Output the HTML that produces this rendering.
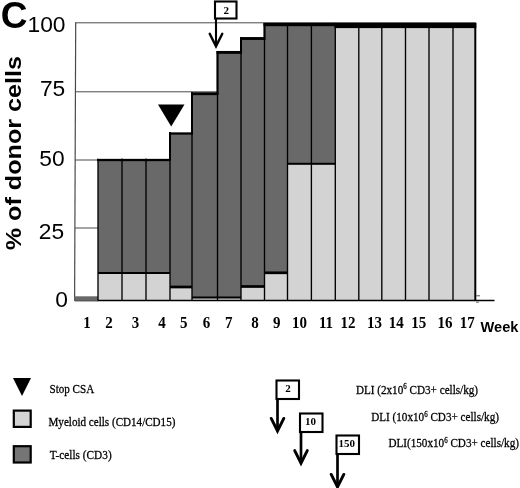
<!DOCTYPE html>
<html><head><meta charset="utf-8"><title>Chart</title>
<style>html,body{margin:0;padding:0;background:#fff}svg{display:block}</style></head>
<body>
<svg width="520" height="488" viewBox="0 0 520 488">
<rect width="520" height="488" fill="#fff"/>
<line x1="75" y1="22.8" x2="476" y2="22.8" stroke="#4a4a4a" stroke-width="1"/>
<line x1="75" y1="91.8" x2="476" y2="91.8" stroke="#4a4a4a" stroke-width="1"/>
<line x1="75" y1="160" x2="476" y2="160" stroke="#4a4a4a" stroke-width="1"/>
<line x1="75" y1="228" x2="476" y2="228" stroke="#4a4a4a" stroke-width="1"/>
<line x1="75.7" y1="22.5" x2="74.6" y2="301.0" stroke="#4a4a4a" stroke-width="1.2"/>
<rect x="74.4" y="296.3" width="23.599999999999994" height="4.800000000000011" fill="#696969"/>
<rect x="98" y="160" width="24" height="113" fill="#696969"/>
<rect x="98" y="273" width="24" height="27.5" fill="#d3d3d3"/>
<rect x="122" y="160" width="24" height="113" fill="#696969"/>
<rect x="122" y="273" width="24" height="27.5" fill="#d3d3d3"/>
<rect x="146" y="160" width="24" height="113" fill="#696969"/>
<rect x="146" y="273" width="24" height="27.5" fill="#d3d3d3"/>
<rect x="170" y="133.5" width="22" height="153.5" fill="#696969"/>
<rect x="170" y="287" width="22" height="13.5" fill="#d3d3d3"/>
<rect x="192" y="93.7" width="25.5" height="203.8" fill="#696969"/>
<rect x="192" y="297.5" width="25.5" height="3.0" fill="#d3d3d3"/>
<rect x="217.5" y="52.4" width="23.5" height="245.1" fill="#696969"/>
<rect x="217.5" y="297.5" width="23.5" height="3.0" fill="#d3d3d3"/>
<rect x="241" y="38.5" width="23.5" height="248.0" fill="#696969"/>
<rect x="241" y="286.5" width="23.5" height="14.0" fill="#d3d3d3"/>
<rect x="264.5" y="24.5" width="23.0" height="248.3" fill="#696969"/>
<rect x="264.5" y="272.8" width="23.0" height="27.69999999999999" fill="#d3d3d3"/>
<rect x="287.5" y="24.5" width="23.899999999999977" height="139.3" fill="#696969"/>
<rect x="287.5" y="163.8" width="23.899999999999977" height="136.7" fill="#d3d3d3"/>
<rect x="311.4" y="24.5" width="23.900000000000034" height="139.3" fill="#696969"/>
<rect x="311.4" y="163.8" width="23.900000000000034" height="136.7" fill="#d3d3d3"/>
<rect x="335.3" y="24.5" width="23.5" height="276.0" fill="#d3d3d3"/>
<rect x="358.8" y="24.5" width="23.0" height="276.0" fill="#d3d3d3"/>
<rect x="381.8" y="24.5" width="23.69999999999999" height="276.0" fill="#d3d3d3"/>
<rect x="405.5" y="24.5" width="23.5" height="276.0" fill="#d3d3d3"/>
<rect x="429" y="24.5" width="24" height="276.0" fill="#d3d3d3"/>
<rect x="453" y="24.5" width="22.5" height="276.0" fill="#d3d3d3"/>
<line x1="98" y1="158.8" x2="98" y2="300.5" stroke="#000" stroke-width="1.35"/>
<line x1="97" y1="160" x2="122.8" y2="160" stroke="#000" stroke-width="2.3"/>
<line x1="98" y1="273" x2="122" y2="273" stroke="#000" stroke-width="2"/>
<line x1="122" y1="158.8" x2="122" y2="300.5" stroke="#000" stroke-width="1.35"/>
<line x1="121" y1="160" x2="146.8" y2="160" stroke="#000" stroke-width="2.3"/>
<line x1="122" y1="273" x2="146" y2="273" stroke="#000" stroke-width="2"/>
<line x1="146" y1="158.8" x2="146" y2="300.5" stroke="#000" stroke-width="1.35"/>
<line x1="145" y1="160" x2="170.8" y2="160" stroke="#000" stroke-width="2.3"/>
<line x1="146" y1="273" x2="170" y2="273" stroke="#000" stroke-width="2"/>
<line x1="170" y1="132.3" x2="170" y2="300.5" stroke="#000" stroke-width="1.35"/>
<line x1="170" y1="132.1" x2="170" y2="161.1" stroke="#000" stroke-width="2"/>
<line x1="169" y1="133.5" x2="192.8" y2="133.5" stroke="#000" stroke-width="2.3"/>
<line x1="170" y1="287" x2="192" y2="287" stroke="#000" stroke-width="2.7"/>
<line x1="192" y1="92.5" x2="192" y2="300.5" stroke="#000" stroke-width="1.35"/>
<line x1="192" y1="92.3" x2="192" y2="134.6" stroke="#000" stroke-width="2"/>
<line x1="191" y1="93.7" x2="218.3" y2="93.7" stroke="#000" stroke-width="2.9"/>
<line x1="192" y1="297.5" x2="217.5" y2="297.5" stroke="#000" stroke-width="2"/>
<line x1="217.5" y1="51.199999999999996" x2="217.5" y2="300.5" stroke="#000" stroke-width="1.35"/>
<line x1="217.5" y1="51.0" x2="217.5" y2="94.8" stroke="#000" stroke-width="2"/>
<line x1="216.5" y1="52.4" x2="241.8" y2="52.4" stroke="#000" stroke-width="2.9"/>
<line x1="217.5" y1="297.5" x2="241" y2="297.5" stroke="#000" stroke-width="2"/>
<line x1="241" y1="37.3" x2="241" y2="300.5" stroke="#000" stroke-width="1.35"/>
<line x1="241" y1="37.1" x2="241" y2="53.5" stroke="#000" stroke-width="2"/>
<line x1="240" y1="38.5" x2="265.3" y2="38.5" stroke="#000" stroke-width="2.9"/>
<line x1="241" y1="286.5" x2="264.5" y2="286.5" stroke="#000" stroke-width="2.7"/>
<line x1="264.5" y1="23.3" x2="264.5" y2="300.5" stroke="#000" stroke-width="1.35"/>
<line x1="264.5" y1="23.1" x2="264.5" y2="39.6" stroke="#000" stroke-width="2"/>
<line x1="264.5" y1="272.8" x2="287.5" y2="272.8" stroke="#000" stroke-width="2.7"/>
<line x1="287.5" y1="23.3" x2="287.5" y2="300.5" stroke="#000" stroke-width="1.35"/>
<line x1="287.5" y1="163.8" x2="311.4" y2="163.8" stroke="#000" stroke-width="2"/>
<line x1="311.4" y1="23.3" x2="311.4" y2="300.5" stroke="#000" stroke-width="1.35"/>
<line x1="311.4" y1="163.8" x2="335.3" y2="163.8" stroke="#000" stroke-width="2"/>
<line x1="335.3" y1="23.3" x2="335.3" y2="300.5" stroke="#000" stroke-width="1.35"/>
<line x1="358.8" y1="23.3" x2="358.8" y2="300.5" stroke="#000" stroke-width="1.35"/>
<line x1="381.8" y1="23.3" x2="381.8" y2="300.5" stroke="#000" stroke-width="1.35"/>
<line x1="405.5" y1="23.3" x2="405.5" y2="300.5" stroke="#000" stroke-width="1.35"/>
<line x1="429" y1="23.3" x2="429" y2="300.5" stroke="#000" stroke-width="1.35"/>
<line x1="453" y1="23.3" x2="453" y2="300.5" stroke="#000" stroke-width="1.35"/>
<line x1="475.3" y1="23" x2="475.3" y2="300.5" stroke="#000" stroke-width="2"/>
<rect x="334.5" y="22.8" width="141.8" height="5.3" fill="#000"/>
<rect x="263.5" y="22.8" width="72" height="3.4" fill="#000"/>
<line x1="97" y1="300.5" x2="494.5" y2="300.5" stroke="#000" stroke-width="1.6"/>
<line x1="75" y1="300.8" x2="98" y2="300.8" stroke="#555" stroke-width="1.2"/>
<line x1="476" y1="295.8" x2="480" y2="295.8" stroke="#555" stroke-width="1"/>
<line x1="476" y1="302.2" x2="479" y2="302.2" stroke="#666" stroke-width="1"/>
<polygon points="158,104.5 184.5,104.5 171.2,126.5" fill="#000"/>
<line x1="216" y1="18.5" x2="216" y2="45.3" stroke="#000" stroke-width="2.1"/>
<polyline points="209.7,33.699999999999996 216,46.3 222.3,33.699999999999996" fill="none" stroke="#000" stroke-width="2.4" stroke-linecap="round" stroke-linejoin="miter"/>
<rect x="215" y="1.5" width="21.5" height="17" fill="#fff" stroke="#000" stroke-width="2.1"/>
<text x="226.25" y="13.6" text-anchor="middle" font-family="'Liberation Serif',serif" font-weight="bold" font-size="11">2</text>
<line x1="277.5" y1="399.0" x2="277.5" y2="430" stroke="#000" stroke-width="2.7"/>
<polyline points="271.2,418.4 277.5,431 283.8,418.4" fill="none" stroke="#000" stroke-width="2.9" stroke-linecap="round" stroke-linejoin="miter"/>
<rect x="276.5" y="380.5" width="22.5" height="18.5" fill="#fff" stroke="#000" stroke-width="2.1"/>
<text x="287.95" y="392.15" text-anchor="middle" font-family="'Liberation Serif',serif" font-weight="bold" font-size="11">2</text>
<line x1="301" y1="432.0" x2="301" y2="462.2" stroke="#000" stroke-width="2.7"/>
<polyline points="294.7,450.59999999999997 301,463.2 307.3,450.59999999999997" fill="none" stroke="#000" stroke-width="2.9" stroke-linecap="round" stroke-linejoin="miter"/>
<rect x="300" y="413.5" width="22.5" height="18.5" fill="#fff" stroke="#000" stroke-width="2.1"/>
<text x="310.45" y="425.15" text-anchor="middle" font-family="'Liberation Serif',serif" font-weight="bold" font-size="11">10</text>
<line x1="337.5" y1="454.0" x2="337.5" y2="486" stroke="#000" stroke-width="2.7"/>
<polyline points="331.2,474.4 337.5,487 343.8,474.4" fill="none" stroke="#000" stroke-width="2.9" stroke-linecap="round" stroke-linejoin="miter"/>
<rect x="336.5" y="435.5" width="22.5" height="18.5" fill="#fff" stroke="#000" stroke-width="2.1"/>
<text x="346.75" y="447.15" text-anchor="middle" font-family="'Liberation Serif',serif" font-weight="bold" font-size="11">150</text>
<text x="65.5" y="32.2" text-anchor="end" font-family="'Liberation Sans',sans-serif" font-size="22.8">100</text>
<text x="65.3" y="96.3" text-anchor="end" font-family="'Liberation Sans',sans-serif" font-size="22.8">75</text>
<text x="64.6" y="166.2" text-anchor="end" font-family="'Liberation Sans',sans-serif" font-size="22.8">50</text>
<text x="64.2" y="238.8" text-anchor="end" font-family="'Liberation Sans',sans-serif" font-size="22.8">25</text>
<text x="68" y="307.4" text-anchor="end" font-family="'Liberation Sans',sans-serif" font-size="22.8">0</text>
<text x="0.7" y="27.8" font-family="'Liberation Sans',sans-serif" font-weight="bold" font-size="37">C</text>
<text transform="translate(20.6,250.3) rotate(-90) scale(1.16,1)" font-family="'Liberation Sans',sans-serif" font-weight="bold" font-size="21.7">% of donor cells</text>
<text transform="translate(87,327.9) scale(1,1.06)" text-anchor="middle" font-family="'Liberation Serif',serif" font-weight="bold" font-size="15">1</text>
<text transform="translate(109,327.9) scale(1,1.06)" text-anchor="middle" font-family="'Liberation Serif',serif" font-weight="bold" font-size="15">2</text>
<text transform="translate(135.6,327.9) scale(1,1.06)" text-anchor="middle" font-family="'Liberation Serif',serif" font-weight="bold" font-size="15">3</text>
<text transform="translate(161.9,327.9) scale(1,1.06)" text-anchor="middle" font-family="'Liberation Serif',serif" font-weight="bold" font-size="15">4</text>
<text transform="translate(183.8,327.9) scale(1,1.06)" text-anchor="middle" font-family="'Liberation Serif',serif" font-weight="bold" font-size="15">5</text>
<text transform="translate(206.6,327.9) scale(1,1.06)" text-anchor="middle" font-family="'Liberation Serif',serif" font-weight="bold" font-size="15">6</text>
<text transform="translate(228.8,327.9) scale(1,1.06)" text-anchor="middle" font-family="'Liberation Serif',serif" font-weight="bold" font-size="15">7</text>
<text transform="translate(255,327.9) scale(1,1.06)" text-anchor="middle" font-family="'Liberation Serif',serif" font-weight="bold" font-size="15">8</text>
<text transform="translate(276.8,327.9) scale(1,1.06)" text-anchor="middle" font-family="'Liberation Serif',serif" font-weight="bold" font-size="15">9</text>
<text transform="translate(299.6,327.9) scale(1,1.06)" text-anchor="middle" font-family="'Liberation Serif',serif" font-weight="bold" font-size="15">10</text>
<text transform="translate(326,327.9) scale(1,1.06)" text-anchor="middle" font-family="'Liberation Serif',serif" font-weight="bold" font-size="15">11</text>
<text transform="translate(347.9,327.9) scale(1,1.06)" text-anchor="middle" font-family="'Liberation Serif',serif" font-weight="bold" font-size="15">12</text>
<text transform="translate(374.6,327.9) scale(1,1.06)" text-anchor="middle" font-family="'Liberation Serif',serif" font-weight="bold" font-size="15">13</text>
<text transform="translate(396.3,327.9) scale(1,1.06)" text-anchor="middle" font-family="'Liberation Serif',serif" font-weight="bold" font-size="15">14</text>
<text transform="translate(418.7,327.9) scale(1,1.06)" text-anchor="middle" font-family="'Liberation Serif',serif" font-weight="bold" font-size="15">15</text>
<text transform="translate(445,327.9) scale(1,1.06)" text-anchor="middle" font-family="'Liberation Serif',serif" font-weight="bold" font-size="15">16</text>
<text transform="translate(467.2,327.9) scale(1,1.06)" text-anchor="middle" font-family="'Liberation Serif',serif" font-weight="bold" font-size="15">17</text>
<text x="480.6" y="332.2" font-family="'Liberation Sans',sans-serif" font-weight="bold" font-size="14.6">Week</text>
<polygon points="13,378 31,378 22,396" fill="#000"/>
<rect x="13.8" y="410.6" width="16.9" height="16.3" fill="#d3d3d3" stroke="#000" stroke-width="2.2"/>
<rect x="13.8" y="446.2" width="16.9" height="16.3" fill="#757575" stroke="#000" stroke-width="2.2"/>
<text transform="translate(49.5,393) scale(1,1.1)" font-family="'Liberation Serif',serif" font-size="11.1" stroke="#000" stroke-width="0.25">Stop CSA</text>
<text transform="translate(48.5,426) scale(1,1.1)" font-family="'Liberation Serif',serif" font-size="11.1" stroke="#000" stroke-width="0.25">Myeloid cells (CD14/CD15)</text>
<text transform="translate(49.7,459) scale(1,1.1)" font-family="'Liberation Serif',serif" font-size="11.3" stroke="#000" stroke-width="0.25">T-cells (CD3)</text>
<text transform="translate(355.9,393.8) scale(1,1.1)" font-family="'Liberation Serif',serif" font-size="11.15" stroke="#000" stroke-width="0.25">DLI (2x10<tspan dy="-4" font-size="7">6</tspan><tspan dy="4"> CD3+ cells/kg)</tspan></text>
<text transform="translate(371.2,420.9) scale(1,1.1)" font-family="'Liberation Serif',serif" font-size="11.15" stroke="#000" stroke-width="0.25">DLI (10x10<tspan dy="-4" font-size="7">6</tspan><tspan dy="4"> CD3+ cells/kg)</tspan></text>
<text transform="translate(388.4,447.4) scale(1,1.1)" font-family="'Liberation Serif',serif" font-size="11.15" stroke="#000" stroke-width="0.25">DLI(150x10<tspan dy="-4" font-size="7">6</tspan><tspan dy="4"> CD3+ cells/kg)</tspan></text>
</svg>
</body></html>
